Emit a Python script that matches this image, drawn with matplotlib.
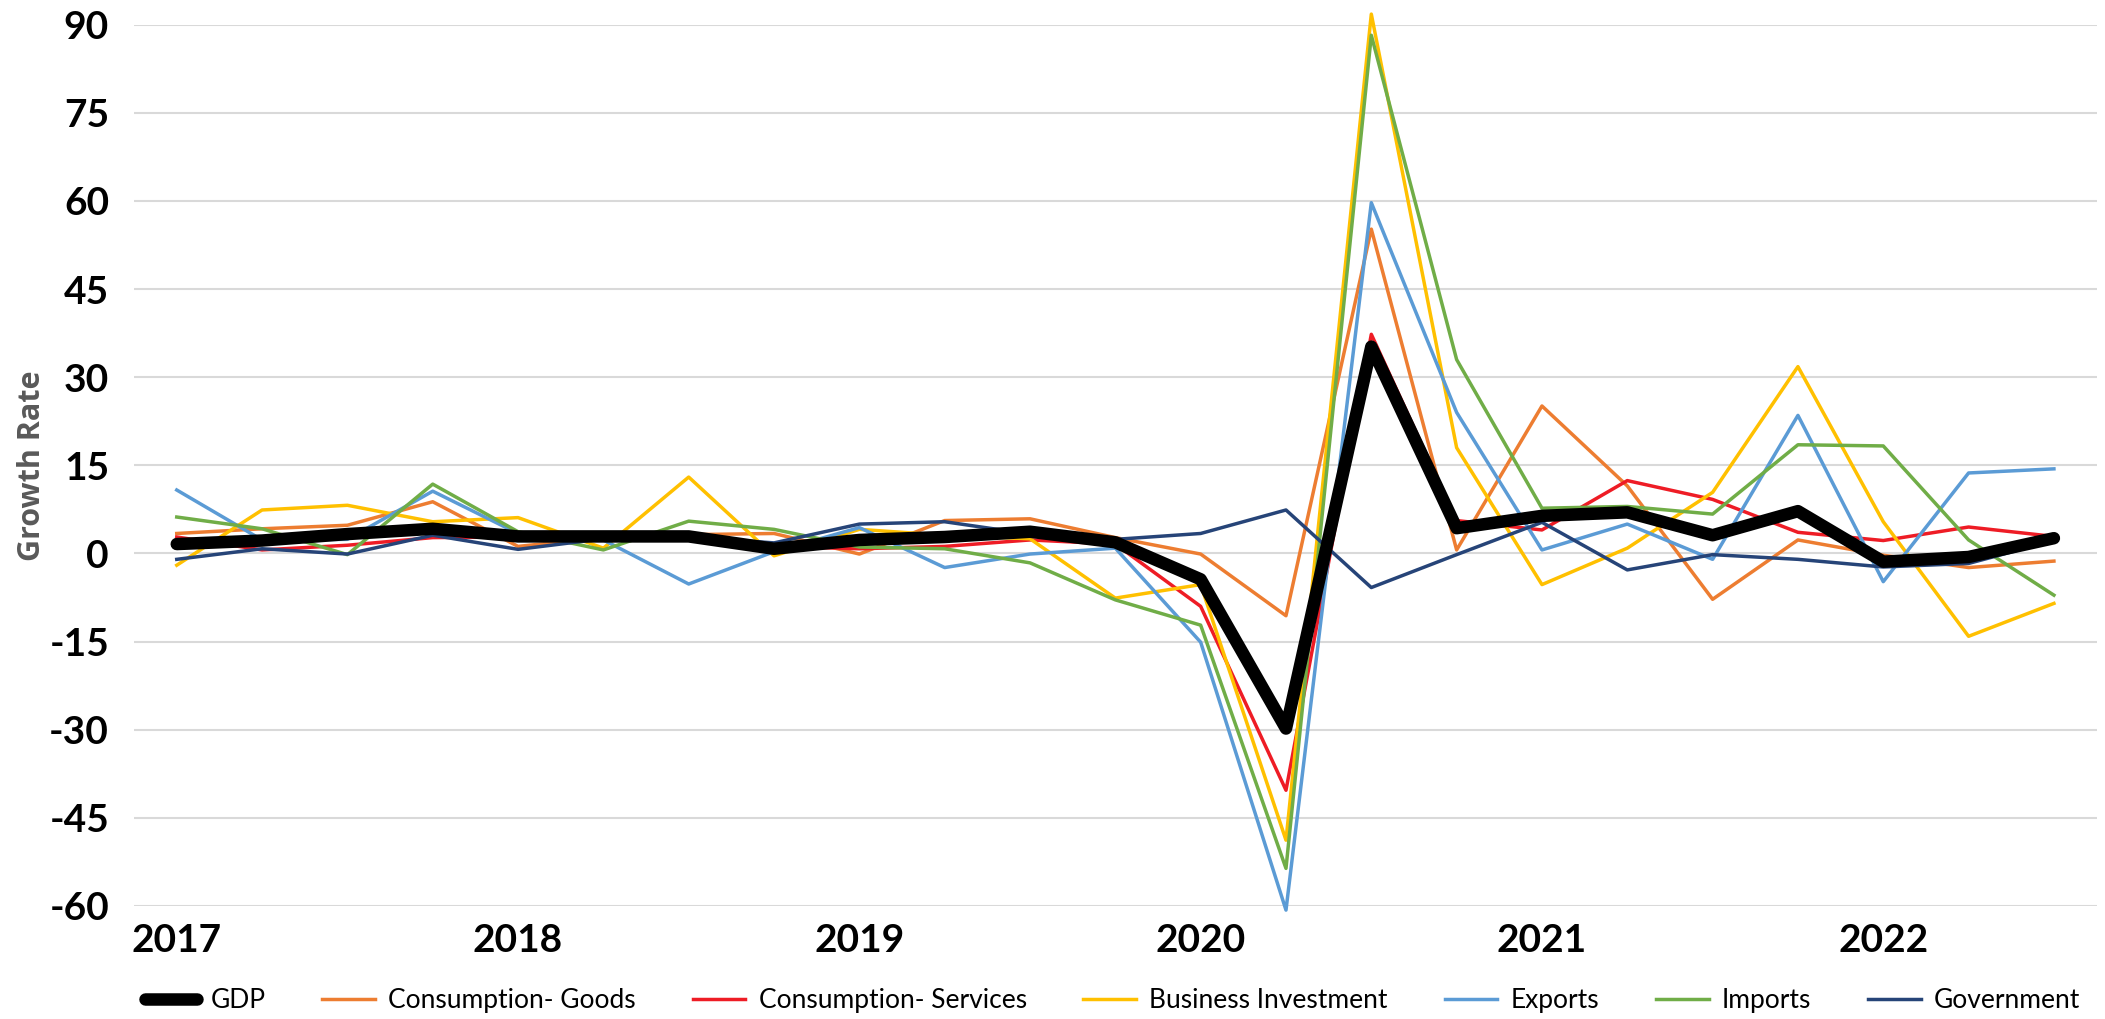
import numpy as np
import matplotlib.pyplot as plt

plt.rcParams['font.family'] = ['Lato', 'DejaVu Sans']
plt.rcParams['axes.unicode_minus'] = False

# quarterly growth rates, 2017Q1 - 2022Q3
years = ['2017', '2018', '2019', '2020', '2021', '2022']

gdp = [1.6, 2.2, 3.3, 4.2, 2.9, 2.9, 2.9, 0.8, 2.3, 2.8, 3.7, 1.9,
       -4.4, -29.8, 35.2, 4.3, 6.4, 7.0, 3.1, 7.2, -1.4, -0.6, 2.6]
cons_goods = [3.4, 4.2, 4.8, 8.8, 1.2, 2.7, 3.2, 3.4, -0.1, 5.6, 5.9, 2.7,
              -0.1, -10.6, 55.2, 0.6, 25.1, 11.5, -7.8, 2.3, -0.3, -2.4, -1.3]
cons_services = [2.8, 0.6, 1.4, 2.7, 2.8, 2.8, 2.4, 1.2, 0.8, 1.2, 2.3, 1.6,
                 -9.0, -40.3, 37.3, 5.6, 4.0, 12.4, 9.2, 3.6, 2.2, 4.5, 2.9]
business_inv = [-2.0, 7.4, 8.2, 5.4, 6.1, 0.9, 13.0, -0.4, 4.1, 3.1, 2.5, -7.6,
                -5.3, -48.8, 91.8, 18.0, -5.3, 0.9, 10.4, 31.8, 5.4, -14.1, -8.5]
exports = [10.8, 2.3, 2.4, 10.6, 3.4, 2.3, -5.2, 0.3, 4.4, -2.4, -0.1, 0.9,
           -15.1, -60.7, 59.7, 24.0, 0.6, 5.0, -1.0, 23.5, -4.8, 13.7, 14.4]
imports = [6.2, 4.2, -0.2, 11.8, 3.7, 0.6, 5.5, 4.1, 1.1, 0.8, -1.6, -7.9,
           -12.2, -53.6, 88.2, 33.0, 7.7, 8.0, 6.7, 18.5, 18.3, 2.3, -7.1]
government = [-1.0, 0.8, -0.1, 3.1, 0.7, 2.5, 2.8, 1.8, 5.0, 5.4, 3.3, 2.4,
              3.4, 7.4, -5.8, -0.2, 5.3, -2.8, -0.2, -1.0, -2.3, -1.7, 2.2]

series = [
    ("Consumption- Goods", cons_goods, "#ED7D31"),
    ("Consumption- Services", cons_services, "#EE1C25"),
    ("Business Investment", business_inv, "#FFC000"),
    ("Exports", exports, "#5B9BD5"),
    ("Imports", imports, "#70AD47"),
    ("Government", government, "#264478"),
]

x = np.arange(len(gdp))

fig = plt.figure(figsize=(21.05, 10.19), dpi=100)
ax = fig.add_axes([0.0637, 0.1109, 0.9323, 0.8649])

# GDP drawn thick and on top of the components
ax.plot(x, gdp, color="black", lw=9, solid_capstyle="round",
        solid_joinstyle="round", zorder=5, label="GDP", clip_on=False)
for name, vals, col in series:
    ax.plot(x, vals, color=col, lw=2.5, zorder=3, label=name, clip_on=False)

ax.set_xlim(-0.5, len(gdp) - 0.5)
ax.set_ylim(-60, 90)
ax.set_yticks(np.arange(-60, 91, 15))
ax.set_xticks(np.arange(0, len(gdp), 4))
ax.set_xticklabels(years)

ax.grid(axis="y", color="#D9D9D9", lw=1.5, zorder=0)
ax.set_axisbelow(True)
for s in ax.spines.values():
    s.set_visible(False)
ax.tick_params(axis="both", length=0, labelsize=28)
ax.tick_params(axis="y", pad=18)
ax.tick_params(axis="x", pad=12)
for lbl in ax.get_xticklabels() + ax.get_yticklabels():
    lbl.set_fontweight("bold")

ax.set_ylabel("Growth Rate", fontsize=22, fontweight="bold", color="#595959",
              va="center", family=["Open Sans", "DejaVu Sans"])
ax.yaxis.set_label_coords(-0.052, 0.5)

handles, labels = ax.get_legend_handles_labels()
fig.legend(handles, labels, loc="center", bbox_to_anchor=(0.5285, 0.018),
           ncol=7, frameon=False, fontsize=19, handlelength=2.0,
           handletextpad=0.5, columnspacing=2.15)

fig.savefig("out.png", dpi=100)
